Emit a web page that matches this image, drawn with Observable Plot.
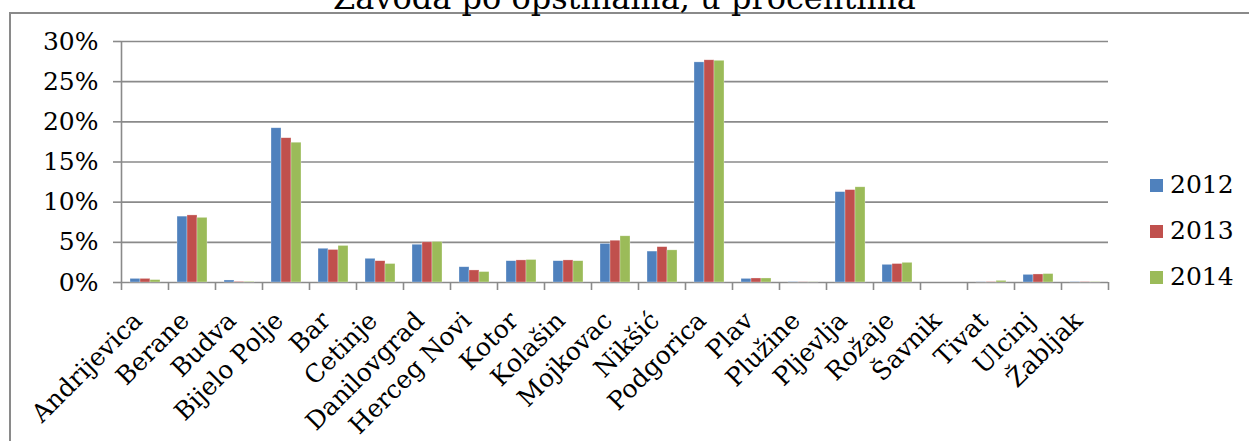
<!DOCTYPE html>
<html>
<head>
<meta charset="utf-8">
<script src="https://cdn.jsdelivr.net/npm/d3@7"></script>
<script src="https://cdn.jsdelivr.net/npm/@observablehq/plot@0.6"></script>
<style>
  html, body { margin: 0; padding: 0; background: #fff; width: 1249px; height: 441px; overflow: hidden; }
  body { position: relative; font-family: "DejaVu Serif", serif; }
  #box { position: absolute; left: 9px; top: 12px; width: 1400px; height: 600px; border: 2px solid #8a8a8a; box-sizing: border-box; }
  #title { position: absolute; left: 0; width: 1249px; top: -18px; text-align: center; font-size: 32px; line-height: 32px; color: #000; white-space: nowrap; }
  #chart { position: absolute; left: 0; top: 0; }
  #legend { position: absolute; left: 1150px; top: 0; }
  .li { position: absolute; left: 0; height: 30px; width: 100px; font-size: 25px; line-height: 30px; color: #000; }
  .sw { position: absolute; left: 0; top: 9px; width: 13px; height: 13px; }
  .lt { position: absolute; left: 20px; top: 0; }
</style>
</head>
<body>
<div id="box"></div>
<div id="title">Zavoda po opštinama, u procentima</div>
<div id="chart"></div>
<div id="legend"></div>
<script>
const cities = ["Andrijevica", "Berane", "Budva", "Bijelo Polje", "Bar", "Cetinje", "Danilovgrad", "Herceg Novi", "Kotor", "Kolašin", "Mojkovac", "Nikšić", "Podgorica", "Plav", "Plužine", "Pljevlja", "Rožaje", "Šavnik", "Tivat", "Ulcinj", "Žabljak"];
const years = ["2012", "2013", "2014"];
const v2012 = [0.45, 8.2, 0.25, 19.2, 4.2, 2.95, 4.7, 1.9, 2.65, 2.65, 4.8, 3.85, 27.4, 0.45, 0.05, 11.25, 2.2, 0, 0.02, 0.95, 0.05];
const v2013 = [0.45, 8.35, 0.08, 17.96, 4.05, 2.65, 5.0, 1.5, 2.75, 2.75, 5.2, 4.4, 27.66, 0.5, 0.02, 11.5, 2.3, 0, 0.05, 1.0, 0.05];
const v2014 = [0.3, 8.05, 0.08, 17.4, 4.55, 2.3, 5.05, 1.3, 2.8, 2.65, 5.75, 4.0, 27.6, 0.5, 0.02, 11.85, 2.45, 0, 0.2, 1.05, 0.05];
const yTicks = [0, 5, 10, 15, 20, 25, 30];
const colors = ["#4F81BD", "#C0504D", "#9BBB59"];

const series = [v2012, v2013, v2014];
const data = [];
cities.forEach((c, i) => years.forEach((y, k) => data.push({city: c, year: y, value: series[k][i]})));

const W = 1249, H = 441;
const mL = 121, mR = 141, mT = 41, mB = 159;
const step = (W - mL - mR) / cities.length;
const gridColor = "#8a8a8a";
const line = {stroke: gridColor, strokeWidth: 1.6, strokeOpacity: 1};

const chart = Plot.plot({
  width: W,
  height: H,
  marginLeft: mL,
  marginRight: mR,
  marginTop: mT,
  marginBottom: mB,
  style: {fontFamily: "DejaVu Serif", fontSize: "25px", color: "#000", background: "transparent", overflow: "visible"},
  fx: {domain: cities, padding: 0, label: null},
  x: {domain: years, paddingInner: 0, paddingOuter: 0.78, axis: null},
  y: {domain: [0, 30], label: null, axis: null},
  color: {domain: years, range: colors},
  marks: [
    Plot.ruleY(yTicks, {stroke: gridColor, strokeWidth: 1.6}),
    Plot.barY(data, {fx: "city", x: "year", y: "value", fill: "year", stroke: "#fff", strokeOpacity: 0.5, strokeWidth: 0.6}),
    Plot.axisY({ticks: yTicks, tickFormat: d => d + "%", tickSize: 8, tickPadding: 15, ...line, label: null}),
    Plot.gridFx({ticks: [cities[0]], dx: -step / 2, ...line}),
    Plot.axisFx({anchor: "bottom", tickSize: 8, tickFormat: () => "", dx: -step / 2, ...line, label: null}),
    Plot.axisFx({anchor: "bottom", ticks: [cities[cities.length - 1]], tickSize: 8, tickFormat: () => "", dx: step / 2, ...line, label: null}),
    Plot.axisFx({anchor: "bottom", tickSize: 0, tickRotate: -45, tickPadding: 34, dx: -7, label: null})
  ]
});
document.getElementById("chart").appendChild(chart);

// legend
const legend = document.getElementById("legend");
const rowsY = [170, 216, 262];
years.forEach((y, k) => {
  const row = document.createElement("div");
  row.className = "li";
  row.style.top = rowsY[k] + "px";
  row.innerHTML = `<div class="sw" style="background:${colors[k]}"></div><div class="lt">${y}</div>`;
  legend.appendChild(row);
});
</script>
</body>
</html>
